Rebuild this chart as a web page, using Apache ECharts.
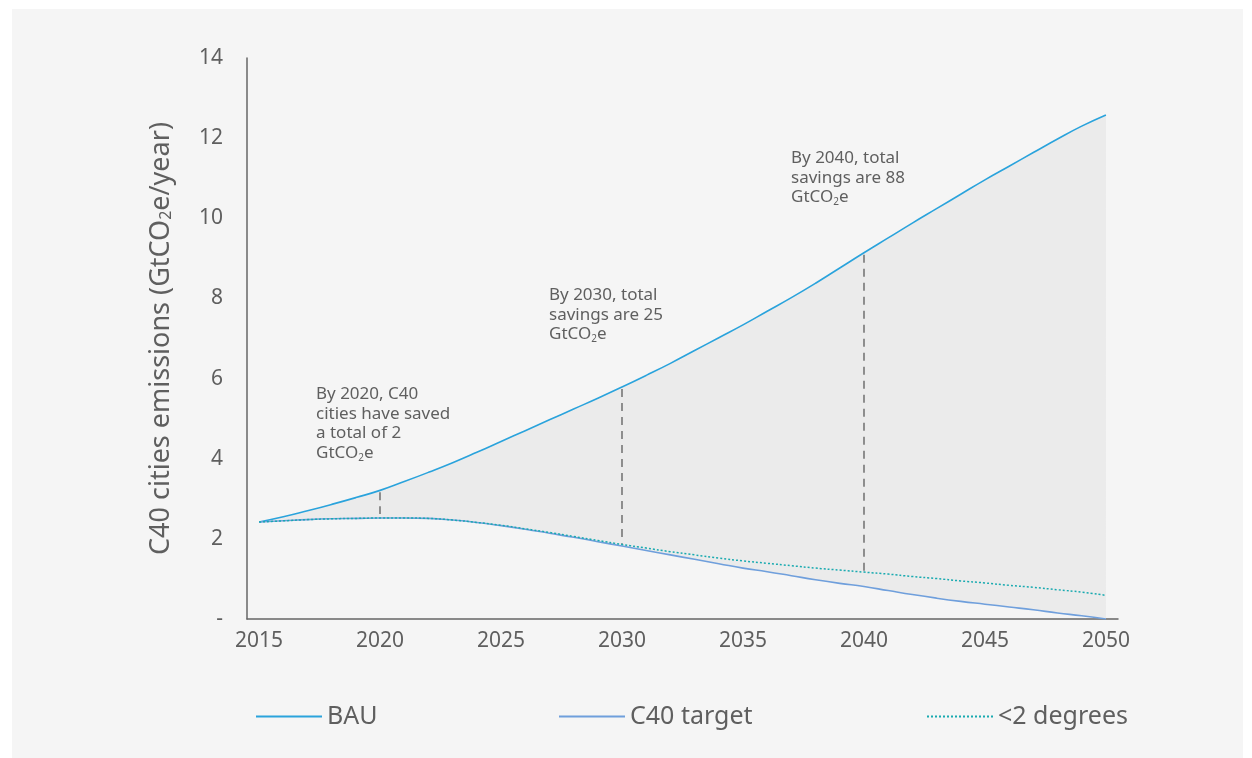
<!DOCTYPE html>
<html>
<head>
<meta charset="utf-8">
<script src="https://cdn.jsdelivr.net/npm/echarts@6/dist/echarts.min.js"></script>
<style>
html,body{margin:0;padding:0;background:#ffffff;}
#c{width:1252px;height:758px;}
</style>
</head>
<body>
<div id="c"></div>
<script>
const years = [];
for (let y = 2015; y <= 2050; y++) years.push(String(y));

const bau = [2.42,2.55,2.70,2.86,3.03,3.21,3.43,3.66,3.90,4.16,4.43,4.70,4.97,5.24,5.51,5.79,6.08,6.38,6.70,7.02,7.34,7.68,8.02,8.38,8.76,9.14,9.51,9.88,10.24,10.60,10.96,11.30,11.64,11.98,12.30,12.58];
const c40Target = [2.42,2.45,2.48,2.50,2.51,2.52,2.52,2.51,2.47,2.41,2.33,2.24,2.14,2.04,1.93,1.82,1.71,1.60,1.49,1.38,1.27,1.18,1.08,0.98,0.89,0.81,0.71,0.61,0.52,0.44,0.37,0.30,0.23,0.15,0.08,0.00];
const twoDegrees = [2.42,2.45,2.48,2.50,2.51,2.52,2.52,2.51,2.47,2.41,2.34,2.25,2.16,2.06,1.96,1.86,1.77,1.68,1.60,1.52,1.45,1.39,1.33,1.27,1.22,1.17,1.12,1.06,1.01,0.95,0.90,0.84,0.79,0.73,0.67,0.59];
const yTicks = ['-','2','4','6','8','10','12','14'];
const markYears = ['2020','2030','2040'];
const notes = [
  ['By 2020, C40','cities have saved','a total of 2','GtCO|2|e'],
  ['By 2030, total','savings are 25','GtCO|2|e'],
  ['By 2040, total','savings are 88','GtCO|2|e']
];

const gap = bau.map((v,i)=> +(v - c40Target[i]).toFixed(3));
const FONT = '"Noto Sans", "Open Sans", sans-serif';
const TXT = '#5f5f5f';

function noteText(lines){
  return lines.map(l => {
    if (l.indexOf('|') >= 0) { const p = l.split('|'); return '{t|'+p[0]+'}{s|'+p[1]+'}{t|'+p[2]+'}'; }
    return '{t|'+l+'}';
  }).join('\n');
}

const markLines = markYears.map(y => {
  const i = years.indexOf(y);
  const top = bau[i] - 0.05;
  const bottom = y === '2020' ? Math.max(c40Target[i], twoDegrees[i]) + 0.1 : Math.max(c40Target[i], twoDegrees[i]) + 0.02;
  return [{coord:[y, top]},{coord:[y, bottom]}];
});

const notePos = [[316,386],[549,287],[791,150]];

const chart = echarts.init(document.getElementById('c'));
chart.setOption({
  animation:false,
  backgroundColor:'#ffffff',
  graphic:[
    {type:'rect', z:-10, shape:{x:12,y:9,width:1231,height:749}, style:{fill:'#f5f5f5'}, silent:true},
    ...notes.map((n,k)=>({
      type:'text', left:notePos[k][0], top:notePos[k][1], z:50,
      style:{text:noteText(n), rich:{
        t:{fontFamily:FONT, fontSize:17, lineHeight:19.5, fill:TXT},
        s:{fontFamily:FONT, fontSize:10, lineHeight:19.5, fill:TXT, verticalAlign:'bottom', padding:[7,0,0,0]}
      }}
    }))
  ],
  legend:[
    {data:['BAU'], left:250, top:699},
    {data:['C40 target'], left:553, top:699},
    {data:['<2 degrees'], left:921, top:699}
  ].map(l=>Object.assign(l,{itemWidth:66,itemHeight:14,itemGap:8,
     itemStyle:{opacity:0},
     textStyle:{fontFamily:FONT,fontSize:25,color:TXT}})),
  grid:{left:247, top:58, right:134, bottom:139, containLabel:false},
  xAxis:{
    type:'category', data:years, boundaryGap:true,
    axisLine:{lineStyle:{color:'#666666', width:1.5}},
    axisTick:{show:false},
    axisLabel:{interval:4, color:TXT, fontFamily:FONT, fontSize:21, margin:12}
  },
  yAxis:{
    type:'value', min:0, max:14, interval:2,
    name:'{t|C40 cities emissions (GtCO}{s|2}{t|e/year)}',
    nameLocation:'middle', nameGap:72, nameRotate:90,
    nameTextStyle:{rich:{
      t:{fontFamily:FONT, fontSize:27, color:TXT},
      s:{fontFamily:FONT, fontSize:16, color:TXT, padding:[9,0,0,0]}
    }},
    axisLine:{show:true, lineStyle:{color:'#666666', width:1.5}},
    axisTick:{show:false},
    splitLine:{show:false},
    axisLabel:{color:TXT, fontFamily:FONT, fontSize:21, margin:24,
      formatter:(v)=> yTicks[Math.round(v/2)]}
  },
  series:[
    {name:'base', type:'line', data:c40Target, stack:'fill', symbol:'none', lineStyle:{opacity:0}, silent:true, z:1},
    {name:'gapfill', type:'line', data:gap, stack:'fill', symbol:'none', lineStyle:{opacity:0},
     areaStyle:{color:'#ebebeb', opacity:1}, silent:true, z:1,
     markLine:{symbol:'none', silent:true, label:{show:false},
       lineStyle:{color:'#777777', type:[8,6], width:1.6}, data:markLines}},
    {name:'BAU', type:'line', data:bau, symbol:'none', smooth:true, color:'#2aa3dc', lineStyle:{width:1.6, color:'#2aa3dc'}, z:5},
    {name:'C40 target', type:'line', data:c40Target, symbol:'none', smooth:true, color:'#7aa6dc', lineStyle:{width:1.6, color:'#6f9fdc'}, z:5},
    {name:'<2 degrees', type:'line', data:twoDegrees, symbol:'none', smooth:true, color:'#19aab0', lineStyle:{width:1.5, color:'#19aab0', type:[2,2]}, z:6}
  ]
});
</script>
</body>
</html>
